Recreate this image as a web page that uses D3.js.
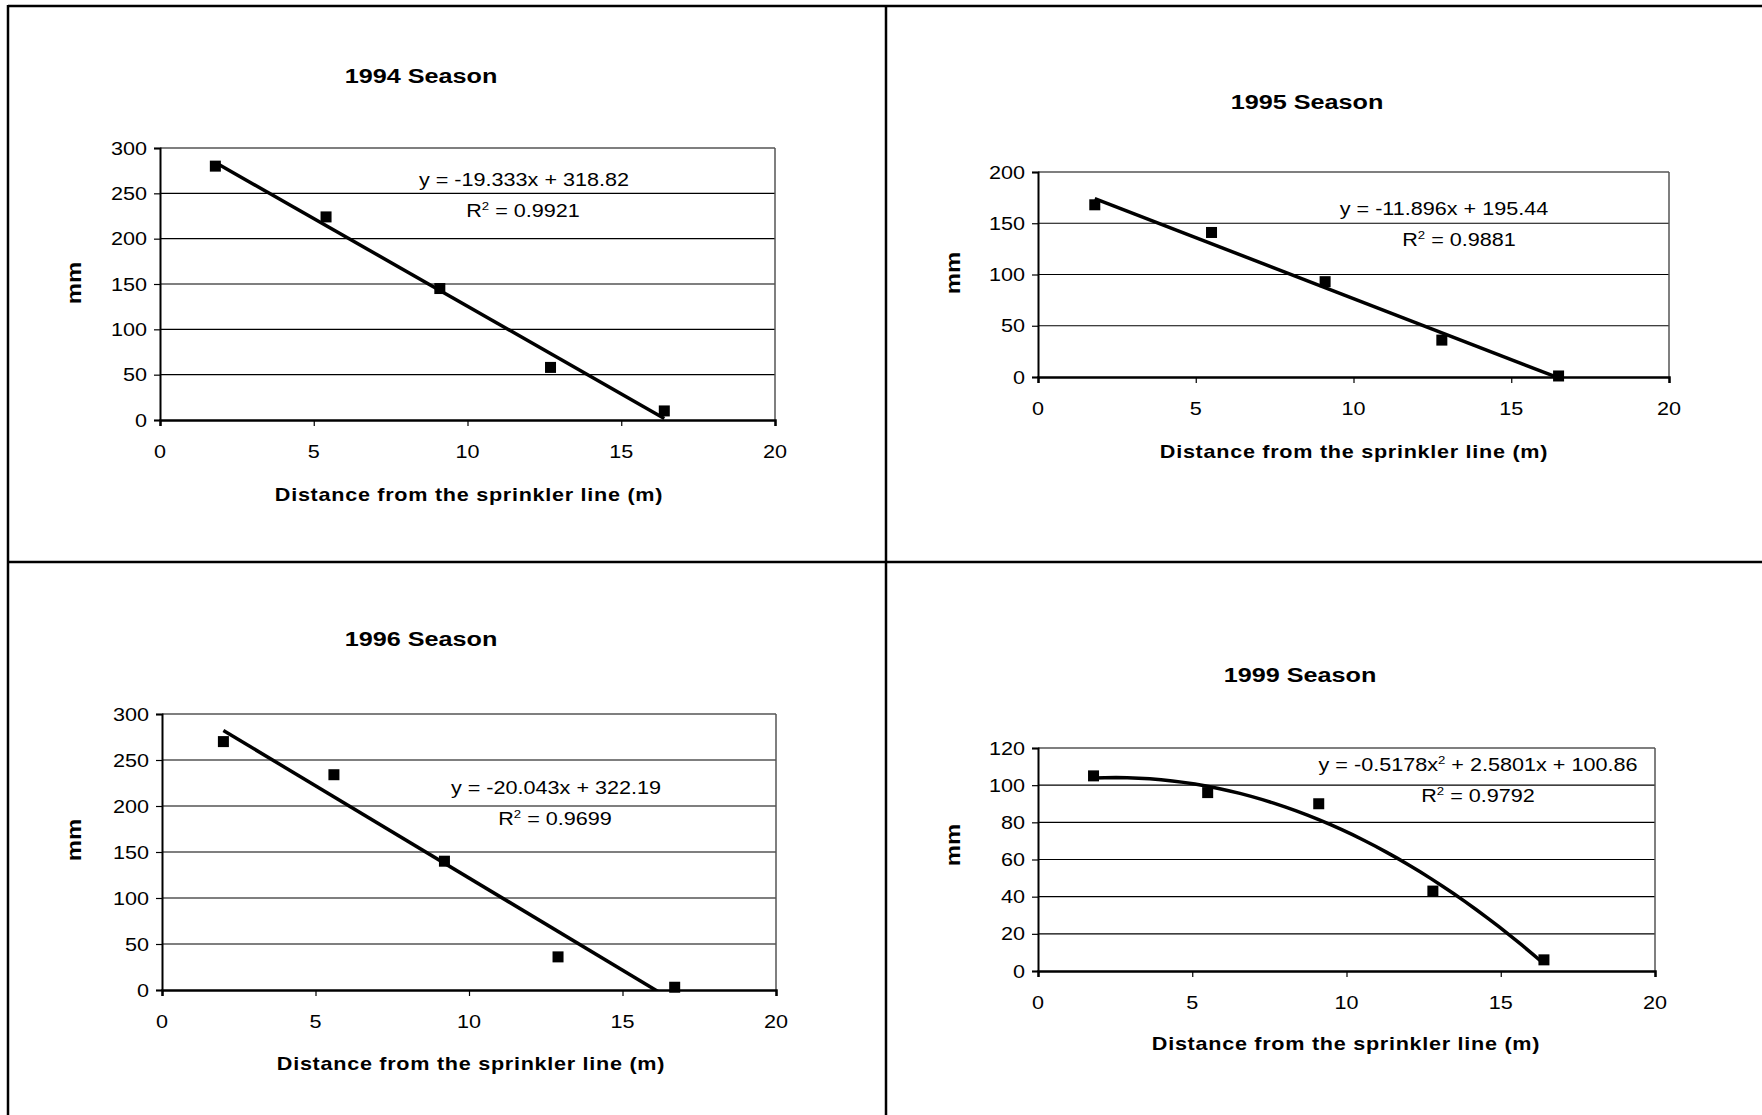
<!DOCTYPE html>
<html>
<head>
<meta charset="utf-8">
<script src="https://cdn.jsdelivr.net/npm/d3@7"></script>
<style>
  body { margin: 0; background: #fff; }
  svg text { font-family: "Liberation Sans", Arial, sans-serif; fill: #000; }
</style>
</head>
<body>
<svg id="chart" width="1762" height="1115"></svg>
<script>
////////////////////////////////////////////////////////////////////////
// Data

let xTicks = [0, 5, 10, 15, 20];

let distance1994 = [1.8, 5.4, 9.1, 12.7, 16.4];
let depth1994 = [280, 224, 145, 58, 10];
let fit1994 = [-19.333, 318.82];   // slope, intercept

let distance1995 = [1.8, 5.5, 9.1, 12.8, 16.5];
let depth1995 = [168, 141, 93, 36, 1];
let fit1995 = [-11.896, 195.44];

let distance1996 = [2.0, 5.6, 9.2, 12.9, 16.7];
let depth1996 = [270, 234, 140, 36, 3];
let fit1996 = [-20.043, 322.19];

let distance1999 = [1.8, 5.5, 9.1, 12.8, 16.4];
let depth1999 = [105, 96, 90, 43, 6];
let fit1999 = [-0.5178, 2.5801, 100.86];   // a, b, c of ax^2 + bx + c

let yTicks1994 = [0, 50, 100, 150, 200, 250, 300];
let yTicks1995 = [0, 50, 100, 150, 200];
let yTicks1996 = [0, 50, 100, 150, 200, 250, 300];
let yTicks1999 = [0, 20, 40, 60, 80, 100, 120];

////////////////////////////////////////////////////////////////////////

let svg = d3.select("#chart");
let stretch = 1.2;   // the source picture is wider than it is tall

// text helper, text is stretched horizontally like the original
function label(g, x, y, str, size, bold, anchor, rotate) {
  let t = g.append("text")
    .attr("transform", "translate(" + x + "," + y + ")" +
      (rotate ? " rotate(-90)" : "") + " scale(" + stretch + ",1)")
    .attr("font-size", size)
    .attr("font-weight", bold ? "bold" : "normal")
    .attr("text-anchor", anchor || "middle");
  return t.text(str);
}

// frame lines between the four panels
let frame = [
  [8, 5, 8, 1115], [8, 6, 1762, 6],
  [886, 6, 886, 1115], [8, 562, 1762, 562]
];
svg.selectAll("line.frame").data(frame).enter().append("line")
  .attr("x1", d => d[0]).attr("y1", d => d[1])
  .attr("x2", d => d[2]).attr("y2", d => d[3])
  .attr("stroke", "#000").attr("stroke-width", 2.5);

function makePanel(p) {
  let g = svg.append("g");
  let x = d3.scaleLinear().domain([0, 20]).range([p.left, p.right]);
  let y = d3.scaleLinear().domain([0, p.yMax]).range([p.bottom, p.top]);

  // clip trendline to the plot area
  let clipId = "clip" + p.title.slice(0, 4);
  g.append("clipPath").attr("id", clipId).append("rect")
    .attr("x", p.left).attr("y", p.top)
    .attr("width", p.right - p.left).attr("height", p.bottom - p.top);

  // gridlines
  g.selectAll("line.grid").data(p.yTicks.slice(1)).enter().append("line")
    .attr("x1", p.left).attr("x2", p.right)
    .attr("y1", d => y(d)).attr("y2", d => y(d))
    .attr("stroke", "#000").attr("stroke-width", 1.2);

  // right border
  g.append("line")
    .attr("x1", p.right).attr("x2", p.right)
    .attr("y1", p.top).attr("y2", p.bottom)
    .attr("stroke", "#555").attr("stroke-width", 1.5);

  // axes
  let xAxis = d3.axisBottom(x).tickValues(xTicks).tickSize(6).tickFormat("");
  let yAxis = d3.axisLeft(y).tickValues(p.yTicks).tickSize(6).tickFormat("");
  g.append("g").attr("transform", "translate(0," + p.bottom + ")").call(xAxis)
    .call(a => a.select(".domain").attr("stroke-width", 2.5))
    .call(a => a.selectAll(".tick line").attr("stroke-width", 1.2));
  g.append("g").attr("transform", "translate(" + p.left + ",0)").call(yAxis)
    .call(a => a.select(".domain").attr("stroke-width", 2))
    .call(a => a.selectAll(".tick line").attr("stroke-width", 1.2));

  // tick labels
  xTicks.forEach(t => label(g, x(t), p.bottom + 38, t, 18, false, "middle"));
  p.yTicks.forEach(t => label(g, p.left - 13, y(t) + 6.5, t, 18, false, "end"));

  // trendline
  let x0 = p.xs[0], x1 = p.xs[p.xs.length - 1];
  let trend;
  if (p.fit.length === 2) {
    trend = [x0, x1].map(v => [v, p.fit[0] * v + p.fit[1]]);
  } else {
    trend = d3.range(0, 41).map(i => {
      let v = x0 + (x1 - x0) * i / 40;
      return [v, p.fit[0] * v * v + p.fit[1] * v + p.fit[2]];
    });
  }
  g.append("path")
    .attr("clip-path", "url(#" + clipId + ")")
    .attr("d", d3.line().x(d => x(d[0])).y(d => y(d[1]))(trend))
    .attr("fill", "none").attr("stroke", "#000").attr("stroke-width", 3.5);

  // points
  g.selectAll("rect.pt").data(p.xs).enter().append("rect")
    .attr("x", (d, i) => x(d) - 5.5)
    .attr("y", (d, i) => y(p.ys[i]) - 5.5)
    .attr("width", 11).attr("height", 11)
    .attr("fill", "#000");

  // text
  label(g, p.titleX, p.titleY, p.title, 21, true, "middle");
  label(g, p.xLabelX, p.xLabelY, "Distance from the sprinkler line (m)", 18, true, "middle")
    .attr("letter-spacing", 0.6);
  label(g, p.mmX, p.mmY, "mm", 20, true, "middle", true);

  let eq = label(g, p.eqX, p.eqY, "", 18, false, "middle");
  eq.text(p.eq[0]);
  if (p.eq.length > 1) {
    eq.append("tspan").attr("font-size", 11).attr("dy", -7).text("2");
    eq.append("tspan").attr("dy", 7).text(p.eq[1]);
  }
  let r2 = label(g, p.r2X, p.eqY + 31, "R", 18, false, "middle");
  r2.append("tspan").attr("font-size", 11).attr("dy", -7).text("2");
  r2.append("tspan").attr("dy", 7).text(" = " + p.r2);
}

makePanel({
  title: "1994 Season", titleX: 421, titleY: 83,
  left: 160, right: 775, top: 148, bottom: 420, yMax: 300, yTicks: yTicks1994,
  xs: distance1994, ys: depth1994, fit: fit1994,
  eq: ["y = -19.333x + 318.82"], r2: "0.9921", eqX: 524, r2X: 523, eqY: 186,
  xLabelX: 469, xLabelY: 501, mmX: 81, mmY: 283
});

makePanel({
  title: "1995 Season", titleX: 1307, titleY: 109,
  left: 1038, right: 1669, top: 172, bottom: 377, yMax: 200, yTicks: yTicks1995,
  xs: distance1995, ys: depth1995, fit: fit1995,
  eq: ["y = -11.896x + 195.44"], r2: "0.9881", eqX: 1444, r2X: 1459, eqY: 215,
  xLabelX: 1354, xLabelY: 458, mmX: 960, mmY: 273
});

makePanel({
  title: "1996 Season", titleX: 421, titleY: 646,
  left: 162, right: 776, top: 714, bottom: 990, yMax: 300, yTicks: yTicks1996,
  xs: distance1996, ys: depth1996, fit: fit1996,
  eq: ["y = -20.043x + 322.19"], r2: "0.9699", eqX: 556, r2X: 555, eqY: 794,
  xLabelX: 471, xLabelY: 1070, mmX: 81, mmY: 840
});

makePanel({
  title: "1999 Season", titleX: 1300, titleY: 682,
  left: 1038, right: 1655, top: 748, bottom: 971, yMax: 120, yTicks: yTicks1999,
  xs: distance1999, ys: depth1999, fit: fit1999,
  eq: ["y = -0.5178x", " + 2.5801x + 100.86"], r2: "0.9792", eqX: 1478, r2X: 1478, eqY: 771,
  xLabelX: 1346, xLabelY: 1050, mmX: 960, mmY: 845
});
</script>
</body>
</html>
